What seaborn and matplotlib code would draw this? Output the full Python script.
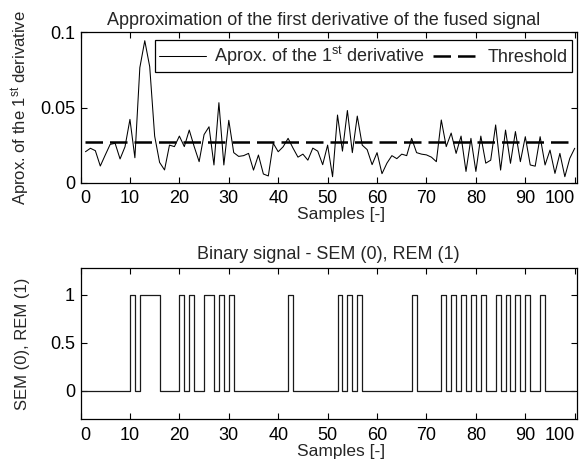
import numpy as np
import pandas as pd
import matplotlib
matplotlib.use("Agg")
import matplotlib.pyplot as plt
import seaborn as sns

# ---------------- data ----------------
samples = list(range(1, 101))
deriv = [0.0206, 0.0229, 0.0213, 0.0111, 0.0184, 0.0255, 0.0262, 0.0158, 0.0239, 0.0421,
         0.0166, 0.0765, 0.0944, 0.0771, 0.0310, 0.0135, 0.0085, 0.0250, 0.0240, 0.0310,
         0.0240, 0.0350, 0.0240, 0.0140, 0.0320, 0.0372, 0.0118, 0.0532, 0.0118, 0.0415,
         0.0200, 0.0175, 0.0180, 0.0195, 0.0084, 0.0184, 0.0058, 0.0045, 0.0262, 0.0206,
         0.0239, 0.0295, 0.0230, 0.0170, 0.0190, 0.0150, 0.0230, 0.0210, 0.0120, 0.0250,
         0.0040, 0.0450, 0.0210, 0.0480, 0.0200, 0.0443, 0.0250, 0.0220, 0.0120, 0.0200,
         0.0060, 0.0130, 0.0180, 0.0160, 0.0190, 0.0180, 0.0295, 0.0200, 0.0190, 0.0185,
         0.0170, 0.0140, 0.0417, 0.0240, 0.0330, 0.0195, 0.0310, 0.0075, 0.0295, 0.0075,
         0.0310, 0.0130, 0.0150, 0.0384, 0.0084, 0.0350, 0.0129, 0.0340, 0.0140, 0.0306,
         0.0118, 0.0110, 0.0306, 0.0118, 0.0217, 0.0062, 0.0195, 0.0040, 0.0162, 0.0229]
threshold_x = [1, 100]
threshold_y = [0.0273, 0.0273]

binary_x = list(range(0, 101))
binary = [0, 0, 0, 0, 0, 0, 0, 0, 0, 0,   # 0-9
          1, 0, 1, 1, 1, 1, 0, 0, 0, 0,   # 10-19
          1, 0, 1, 0, 0, 1, 1, 0, 1, 0,   # 20-29
          1, 0, 0, 0, 0, 0, 0, 0, 0, 0,   # 30-39
          0, 0, 1, 0, 0, 0, 0, 0, 0, 0,   # 40-49
          0, 0, 1, 0, 1, 0, 1, 0, 0, 0,   # 50-59
          0, 0, 0, 0, 0, 0, 0, 1, 0, 0,   # 60-69
          0, 0, 0, 1, 0, 1, 0, 1, 0, 1,   # 70-79
          0, 1, 0, 0, 1, 0, 1, 0, 1, 0,   # 80-89
          1, 0, 0, 1, 0, 0, 0, 0, 0, 0,   # 90-99
          0]                              # 100

top_title = "Approximation of the first derivative of the fused signal"
bottom_title = "Binary signal - SEM (0), REM (1)"
xlabel = "Samples [-]"
top_ylabel = "Aprox. of the 1$^{\\mathrm{st}}$ derivative"
bottom_ylabel = "SEM (0), REM (1)"
legend_labels = ["Aprox. of the 1$^{\\mathrm{st}}$ derivative", "Threshold"]
x_ticks = [0, 10, 20, 30, 40, 50, 60, 70, 80, 90, 100]
top_yticks = [0, 0.05, 0.1]
top_yticklabels = ["0", "0.05", "0.1"]
bottom_yticks = [0, 0.5, 1]
bottom_yticklabels = ["0", "0.5", "1"]

# ---------------- style ----------------
sns.set_style("ticks")
plt.rcParams["font.family"] = ["Liberation Sans", "DejaVu Sans"]
plt.rcParams["mathtext.fontset"] = "custom"
plt.rcParams["mathtext.rm"] = "Liberation Sans"
plt.rcParams["mathtext.it"] = "Liberation Sans:italic"
plt.rcParams["mathtext.bf"] = "Liberation Sans:bold"
plt.rcParams["axes.linewidth"] = 0.9
plt.rcParams["axes.edgecolor"] = "black"

fs_tick = 13
fs_xlabel = 12.5
fs_ylabel = 12
fs_legend = 13
fs_title = 13

fig = plt.figure(figsize=(5.81, 4.66), dpi=100)
ax1 = fig.add_axes([0.1386, 0.6079, 0.8540, 0.3228])
ax2 = fig.add_axes([0.1386, 0.1002, 0.8540, 0.3253])

df_d = pd.DataFrame({"x": samples, "y": deriv})
df_t = pd.DataFrame({"x": threshold_x, "y": threshold_y})
df_b = pd.DataFrame({"x": binary_x, "y": binary})

sns.lineplot(data=df_d, x="x", y="y", ax=ax1, color="black", linewidth=0.75,
             label=legend_labels[0])
sns.lineplot(data=df_t, x="x", y="y", ax=ax1, color="black", linewidth=1.8,
             label=legend_labels[1], dashes=False)
ax1.lines[1].set_dashes([7.0, 2.8])

sns.lineplot(data=df_b, x="x", y="y", ax=ax2, color="#1a1a1a", linewidth=0.9,
             drawstyle="steps-post")

for ax in (ax1, ax2):
    ax.set_xlim(0, 100.4)
    ax.set_xticks(x_ticks)
    ax.set_xticklabels([str(t) for t in x_ticks])
    ax.tick_params(direction="in", top=True, right=True, length=4, width=0.8,
                   labelsize=fs_tick, colors="black")
    ax.tick_params(axis="x", pad=5.5)
    ax.tick_params(axis="y", pad=4)
    labels = ax.get_xticklabels()
    labels[0].set_horizontalalignment("left")
    labels[-1].set_horizontalalignment("right")
    ax.set_xlabel(xlabel, fontsize=fs_xlabel, labelpad=0, x=0.525)
    for s in ax.spines.values():
        s.set_visible(True)
        s.set_color("black")

ax1.set_ylim(0, 0.1)
ax1.set_yticks(top_yticks)
ax1.set_yticklabels(top_yticklabels)
ax1.set_ylabel(top_ylabel, fontsize=fs_ylabel)
ax1.yaxis.set_label_coords(-0.098, 0.5)
ax1.set_title(top_title, fontsize=fs_title, pad=5, x=0.49)

ax2.set_ylim(-0.3, 1.28)
ax2.set_yticks(bottom_yticks)
ax2.set_yticklabels(bottom_yticklabels)
ax2.set_ylabel(bottom_ylabel, fontsize=fs_ylabel)
ax2.yaxis.set_label_coords(-0.102, 0.5)
ax2.set_title(bottom_title, fontsize=fs_title, pad=6)

leg = ax1.legend(loc="upper right", ncol=2, fontsize=fs_legend, frameon=True,
                 fancybox=False, edgecolor="black", handlelength=2.6,
                 handletextpad=0.4, columnspacing=0.5, borderpad=0.25,
                 borderaxespad=0, bbox_to_anchor=(0.991, 0.95))
leg.get_frame().set_linewidth(0.9)
leg.get_frame().set_alpha(1)
leg.get_lines()[1].set_dashes([7.0, 2.8])

fig.savefig("out.png", dpi=100)
